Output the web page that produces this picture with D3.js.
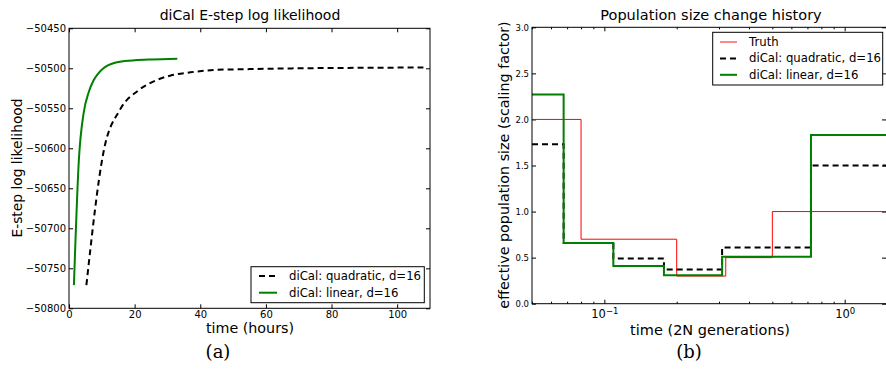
<!DOCTYPE html>
<html>
<head>
<meta charset="utf-8">
<script src="https://cdn.jsdelivr.net/npm/d3@7"></script>
<style>
  body { margin: 0; background: #fff; }
  svg text { font-family: "DejaVu Sans", sans-serif; fill: #000; }
</style>
</head>
<body>
<svg id="chart" width="886" height="374"></svg>
<script>
// panel (a): E-step log likelihood over time
const linearTime = [1.5, 3.0, 4.5, 6, 7.5, 9, 10.5, 12, 14, 17, 20, 25, 33];
const linearLL = [-50771, -50615, -50555, -50530, -50515, -50506, -50500, -50496, -50493, -50491, -50490, -50489, -50488];
const quadTime = [5.3, 10.5, 15.5, 21, 26, 31, 37, 45, 55, 70, 85, 108];
const quadLL = [-50771, -50605, -50552, -50528, -50516, -50509, -50505, -50502, -50501, -50500, -50499.5, -50499];
const llTicksX = [0, 20, 40, 60, 80, 100];
const llTicksY = [-50800, -50750, -50700, -50650, -50600, -50550, -50500, -50450];

// panel (b): population size history (step functions)
const truthT = [0.05, 0.08, 0.2, 0.32, 0.5, 1.5];
const truthN = [2.0, 0.7, 0.3, 0.5, 1.0, 1.0];
const estT = [0.05, 0.0677, 0.109, 0.177, 0.309, 0.724, 1.5];
const quadN = [1.73, 0.66, 0.49, 0.37, 0.61, 1.5, 1.5];
const linN = [2.27, 0.66, 0.41, 0.31, 0.51, 1.83, 1.83];
const popTicksY = [0, 0.5, 1.0, 1.5, 2.0, 2.5, 3.0];
const popMajorX = [0.1, 1];
const popMinorX = [0.05, 0.06, 0.07, 0.08, 0.09, 0.2, 0.3, 0.4, 0.5, 0.6, 0.7, 0.8, 0.9];

const legendLabels = ['Truth', 'diCal: quadratic, d=16', 'diCal: linear, d=16'];
const green = '#007f00';

const svg = d3.select('#chart');
const fmtMinus = d => String(d).replace('-', '\u2212');

function frame(g, x0, x1, y0, y1) {
	g.append('rect')
		.attr('x', x0).attr('y', y1)
		.attr('width', x1 - x0).attr('height', y0 - y1)
		.attr('fill', 'none').attr('stroke', '#000').attr('stroke-width', 1);
}

function styleAxis(sel, fontSize) {
	sel.select('.domain').remove();
	sel.selectAll('.tick line').attr('stroke', '#000').attr('stroke-width', 1);
	sel.selectAll('.tick text').style('font-size', fontSize + 'px').attr('fill', '#000');
}

// ---------- panel (a) ----------
const xA = d3.scaleLinear().domain([0, 110]).range([69, 430]);
const yA = d3.scaleLinear().domain([-50800, -50450]).range([308.3, 28.3]);
const gA = svg.append('g');

gA.append('g').attr('transform', 'translate(0,' + yA.range()[0] + ')')
	.call(d3.axisBottom(xA).tickValues(llTicksX).tickSize(-4).tickPadding(3))
	.call(s => styleAxis(s, 10));
gA.append('g').attr('transform', 'translate(0,' + yA.range()[1] + ')')
	.call(d3.axisTop(xA).tickValues(llTicksX).tickSize(-4).tickFormat(() => ''))
	.call(s => styleAxis(s, 10));
gA.append('g').attr('transform', 'translate(' + xA.range()[0] + ',0)')
	.call(d3.axisLeft(yA).tickValues(llTicksY).tickSize(-4).tickPadding(3).tickFormat(fmtMinus))
	.call(s => styleAxis(s, 10));
gA.append('g').attr('transform', 'translate(' + xA.range()[1] + ',0)')
	.call(d3.axisRight(yA).tickValues(llTicksY).tickSize(-4).tickFormat(() => ''))
	.call(s => styleAxis(s, 10));

const lineA = d3.line().x(d => xA(d[0])).y(d => yA(d[1])).curve(d3.curveMonotoneX);
gA.append('path')
	.datum(quadTime.map((t, i) => [t, quadLL[i]]))
	.attr('d', lineA).attr('fill', 'none')
	.attr('stroke', '#000').attr('stroke-width', 2).attr('stroke-dasharray', '6,4');
gA.append('path')
	.datum(linearTime.map((t, i) => [t, linearLL[i]]))
	.attr('d', lineA).attr('fill', 'none')
	.attr('stroke', green).attr('stroke-width', 2);

frame(gA, 69, 430, 308.3, 28.3);

gA.append('text').attr('x', 250).attr('y', 20).attr('text-anchor', 'middle')
	.style('font-size', '14px').text('diCal E-step log likelihood');
gA.append('text').attr('x', 250).attr('y', 333).attr('text-anchor', 'middle')
	.style('font-size', '14.3px').text('time (hours)');
gA.append('text').attr('transform', 'translate(22,168) rotate(-90)').attr('text-anchor', 'middle')
	.style('font-size', '13.8px').text('E-step log likelihood');
gA.append('text').attr('x', 218).attr('y', 358).attr('text-anchor', 'middle')
	.style('font-family', '"DejaVu Serif", serif').style('font-size', '18px').text('(a)');

// legend (a)
const legA = gA.append('g');
legA.append('rect').attr('x', 251).attr('y', 266.7).attr('width', 173.3).attr('height', 36)
	.attr('fill', '#fff').attr('stroke', '#000').attr('stroke-width', 1);
[[legendLabels[1], '#000', '6,4'], [legendLabels[2], green, null]].forEach((e, i) => {
	const y = 276 + i * 16.7;
	legA.append('line').attr('x1', 259).attr('x2', 277).attr('y1', y).attr('y2', y)
		.attr('stroke', e[1]).attr('stroke-width', 2).attr('stroke-dasharray', e[2]);
	legA.append('text').attr('x', 289).attr('y', y + 4).style('font-size', '11.7px').text(e[0]);
});

// ---------- panel (b) ----------
const xB = d3.scaleLog().domain([0.05, 1.5]).range([532, 887]);
const yB = d3.scaleLinear().domain([0, 3]).range([303.7, 27.3]);
const gB = svg.append('g');

const supFmt = (sel) => {
	sel.selectAll('.tick text').each(function (d) {
		const t = d3.select(this).text('');
		t.append('tspan').text('10');
		t.append('tspan').attr('dy', '-0.45em').style('font-size', '8.5px')
			.text(fmtMinus(Math.round(Math.log10(d))));
	});
};

gB.append('g').attr('transform', 'translate(0,' + yB.range()[0] + ')')
	.call(d3.axisBottom(xB).tickValues(popMajorX).tickSize(-4).tickPadding(6))
	.call(s => styleAxis(s, 11.5)).call(supFmt);
gB.append('g').attr('transform', 'translate(0,' + yB.range()[0] + ')')
	.call(d3.axisBottom(xB).tickValues(popMinorX).tickSize(-2).tickFormat(() => ''))
	.call(s => styleAxis(s, 10));
gB.append('g').attr('transform', 'translate(0,' + yB.range()[1] + ')')
	.call(d3.axisTop(xB).tickValues(popMajorX).tickSize(-4).tickFormat(() => ''))
	.call(s => styleAxis(s, 10));
gB.append('g').attr('transform', 'translate(0,' + yB.range()[1] + ')')
	.call(d3.axisTop(xB).tickValues(popMinorX).tickSize(-2).tickFormat(() => ''))
	.call(s => styleAxis(s, 10));
gB.append('g').attr('transform', 'translate(' + xB.range()[0] + ',0)')
	.call(d3.axisLeft(yB).tickValues(popTicksY).tickSize(-4).tickPadding(3).tickFormat(d3.format('.1f')))
	.call(s => styleAxis(s, 8.5));
gB.append('g').attr('transform', 'translate(' + (xB.range()[1] - 1) + ',0)')
	.call(d3.axisRight(yB).tickValues(popTicksY).tickSize(-4).tickFormat(() => ''))
	.call(s => styleAxis(s, 10));

const stepB = d3.line().x(d => xB(d[0])).y(d => yB(d[1])).curve(d3.curveStepAfter);
gB.append('path').datum(truthT.map((t, i) => [t, truthN[i]]))
	.attr('d', stepB).attr('fill', 'none').attr('stroke', '#ff0000').attr('stroke-width', 1);
gB.append('path').datum(estT.map((t, i) => [t, quadN[i]]))
	.attr('d', stepB).attr('fill', 'none').attr('stroke', '#000')
	.attr('stroke-width', 2).attr('stroke-dasharray', '6,4');
gB.append('path').datum(estT.map((t, i) => [t, linN[i]]))
	.attr('d', stepB).attr('fill', 'none').attr('stroke', green).attr('stroke-width', 2);

frame(gB, 532, 887, 303.7, 27.3);

gB.append('text').attr('x', 711).attr('y', 20).attr('text-anchor', 'middle')
	.style('font-size', '14.5px').text('Population size change history');
gB.append('text').attr('x', 710).attr('y', 335).attr('text-anchor', 'middle')
	.style('font-size', '14.5px').text('time (2N generations)');
gB.append('text').attr('transform', 'translate(509,165) rotate(-90)').attr('text-anchor', 'middle')
	.style('font-size', '14.3px').text('effective population size (scaling factor)');
gB.append('text').attr('x', 689).attr('y', 358).attr('text-anchor', 'middle')
	.style('font-family', '"DejaVu Serif", serif').style('font-size', '18px').text('(b)');

// legend (b)
const legB = gB.append('g');
legB.append('rect').attr('x', 712.7).attr('y', 32.3).attr('width', 170).attr('height', 52.7)
	.attr('fill', '#fff').attr('stroke', '#000').attr('stroke-width', 1);
[[legendLabels[0], '#ff6060', null, 1.5], [legendLabels[1], '#000', '6,4', 2], [legendLabels[2], green, null, 2]].forEach((e, i) => {
	const y = 42 + i * 16.4;
	legB.append('line').attr('x1', 720).attr('x2', 737).attr('y1', y).attr('y2', y)
		.attr('stroke', e[1]).attr('stroke-width', e[3]).attr('stroke-dasharray', e[2]);
	legB.append('text').attr('x', 749).attr('y', y + 4).style('font-size', '11.7px').text(e[0]);
});
</script>
</body>
</html>
